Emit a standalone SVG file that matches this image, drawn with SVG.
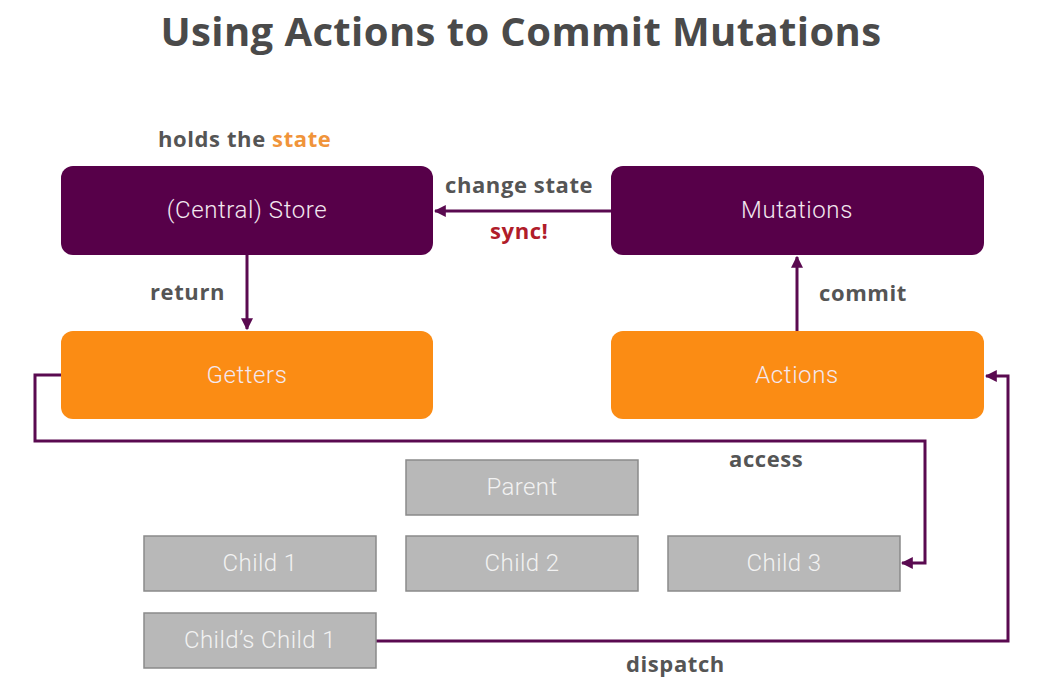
<svg xmlns="http://www.w3.org/2000/svg" width="1061" height="692" viewBox="0 0 1061 692">
<defs>
<style>
.title{font-family:"Open Sans","Liberation Sans",sans-serif;font-weight:700;font-size:40px;letter-spacing:0.4px;fill:#4a4a4a}
.lbl{font-family:"Open Sans","Liberation Sans",sans-serif;font-weight:700;font-size:22px;letter-spacing:0.6px;fill:#555555}
.dark rect{fill:#570049}
.org rect{fill:#fb8c14}
.gray rect{fill:#b8b8b8;stroke:#8a8a8a;stroke-width:1.5}
.node text{font-family:Roboto,"Liberation Sans",sans-serif;font-weight:300;font-size:24px;letter-spacing:0.6px;fill:#f3e8f0;text-anchor:middle;dominant-baseline:central}
.gray text{fill:#f2f2f2;font-size:24px;letter-spacing:0.4px}
.con{fill:none;stroke:#5a0a50;stroke-width:3;marker-end:url(#ah)}
</style>
<marker id="ah" viewBox="0 0 10 10" refX="9" refY="5" markerWidth="4" markerHeight="4" orient="auto" markerUnits="strokeWidth">
<path d="M0,0 L10,5 L0,10 z" fill="#5a0a50"/>
</marker>
</defs>
<rect width="1061" height="692" fill="#ffffff"/>
<text class="title" x="521" y="46" text-anchor="middle">Using Actions to Commit Mutations</text>
<text class="lbl" x="158" y="147">holds the <tspan fill="#f0943a">state</tspan></text>

<g id="connectors">
<path class="con" d="M611,211 L435,211"/>
<path class="con" d="M247,255 L247,329"/>
<path class="con" d="M797,331 L797,257"/>
<path class="con" d="M61,375 L35,375 L35,441 L925,441 L925,563 L902,563"/>
<path class="con" d="M376,641 L1008,641 L1008,376 L986,376"/>
</g>

<text class="lbl" x="445" y="193">change state</text>
<text class="lbl" x="490" y="239" style="fill:#b01c2a">sync!</text>
<text class="lbl" x="150" y="300">return</text>
<text class="lbl" x="819" y="301">commit</text>
<text class="lbl" x="729" y="467">access</text>
<text class="lbl" x="626" y="672">dispatch</text>

<g id="store" class="node dark"><rect x="61" y="166" width="372" height="89" rx="12"/><text x="247" y="210">(Central) Store</text></g>
<g id="mutations" class="node dark"><rect x="611" y="166" width="373" height="89" rx="12"/><text x="797" y="210">Mutations</text></g>
<g id="getters" class="node org"><rect x="61" y="331" width="372" height="88" rx="12"/><text x="247" y="375">Getters</text></g>
<g id="actions" class="node org"><rect x="611" y="331" width="373" height="88" rx="12"/><text x="797" y="375">Actions</text></g>
<g id="parent" class="node gray"><rect x="406" y="460" width="232" height="55"/><text x="522" y="487">Parent</text></g>
<g id="child1" class="node gray"><rect x="144" y="536" width="232" height="55"/><text x="260" y="563">Child 1</text></g>
<g id="child2" class="node gray"><rect x="406" y="536" width="232" height="55"/><text x="522" y="563">Child 2</text></g>
<g id="child3" class="node gray"><rect x="668" y="536" width="232" height="55"/><text x="784" y="563">Child 3</text></g>
<g id="childschild1" class="node gray"><rect x="144" y="613" width="232" height="55"/><text x="260" y="640">Child’s Child 1</text></g>
</svg>
